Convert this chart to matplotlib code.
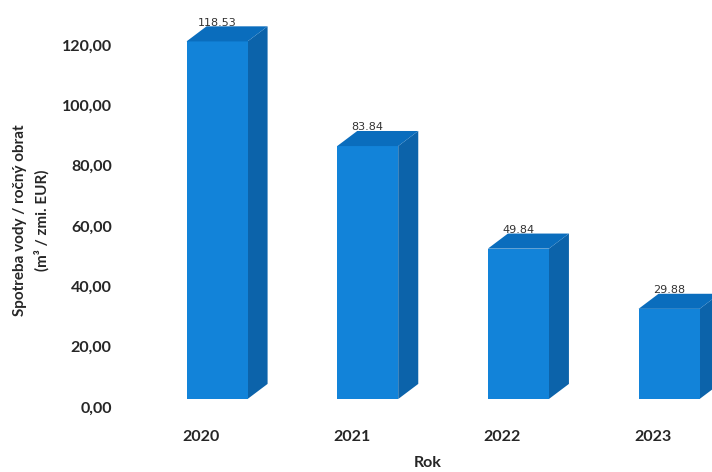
import matplotlib
matplotlib.use("Agg")
import matplotlib.pyplot as plt
from matplotlib.patches import Polygon
from matplotlib.transforms import ScaledTranslation

years = ["2020", "2021", "2022", "2023"]
values = [118.53, 83.84, 49.84, 29.88]
value_labels = ["118.53", "83.84", "49.84", "29.88"]
y_ticks = [0, 20, 40, 60, 80, 100, 120]
y_tick_labels = ["0,00", "20,00", "40,00", "60,00", "80,00", "100,00", "120,00"]

FRONT = "#1283d9"
SIDE = "#0c63aa"
TOP = "#0a6dbd"
TEXT = "#262626"

plt.rcParams["font.family"] = ["Lato", "DejaVu Sans"]

fig = plt.figure(figsize=(7.12, 4.72), dpi=100)
ax = fig.add_axes([120 / 712, 73 / 472, 592 / 712, 0.8437])
ax.set_xlim(-0.644, 3.285)
ax.set_ylim(0, 132)
for s in ax.spines.values():
    s.set_visible(False)

width = 0.405
depth_x = 0.133   # receding depth, category units
depth_y = 5.0     # receding depth, value units

xs = list(range(len(values)))
ax.bar(xs, values, width=width, color=FRONT, zorder=3)
for x, v in zip(xs, values):
    l, r = x - width / 2, x + width / 2
    side = Polygon([(r, 0), (r + depth_x, depth_y), (r + depth_x, v + depth_y), (r, v)],
                   closed=True, facecolor=SIDE, edgecolor="none", zorder=2)
    top = Polygon([(l, v), (r, v), (r + depth_x, v + depth_y), (l + depth_x, v + depth_y)],
                  closed=True, facecolor=TOP, edgecolor="none", zorder=4)
    ax.add_patch(side)
    ax.add_patch(top)

for x, v, lab in zip(xs, values, value_labels):
    ax.annotate(lab, (x, v), xytext=(0, 13.5), textcoords="offset points",
                ha="center", va="center", fontsize=8, color="#333333",
                family="DejaVu Sans", zorder=5)

ax.set_yticks(y_ticks)
ax.set_yticklabels(y_tick_labels, fontsize=11.5, fontweight="bold", color=TEXT)
ax.tick_params(axis="y", length=0, pad=6)
shift_y = ScaledTranslation(0, -8 / 100, fig.dpi_scale_trans)
for lab in ax.get_yticklabels():
    lab.set_transform(lab.get_transform() + shift_y)

ax.set_xticks(xs)
ax.set_xticklabels(years, fontsize=11.5, fontweight="bold", color=TEXT)
ax.tick_params(axis="x", length=0, pad=22)
shift_x = ScaledTranslation(-16 / 100, 0, fig.dpi_scale_trans)
for lab in ax.get_xticklabels():
    lab.set_transform(lab.get_transform() + shift_x)

fig.text(428 / 712, 1 - 463 / 472, "Rok", ha="center", va="center",
         fontsize=11.5, fontweight="bold", color=TEXT)
fig.text(20 / 712, 1 - 220 / 472, "Spotreba vody / ročný obrat", rotation=90,
         ha="center", va="center", fontsize=11, fontweight="bold", color=TEXT)
fig.text(42 / 712, 1 - 220 / 472, "(m³ / zmi. EUR)", rotation=90,
         ha="center", va="center", fontsize=11, fontweight="bold", color=TEXT)

fig.savefig("out.png", dpi=100, facecolor="white")
